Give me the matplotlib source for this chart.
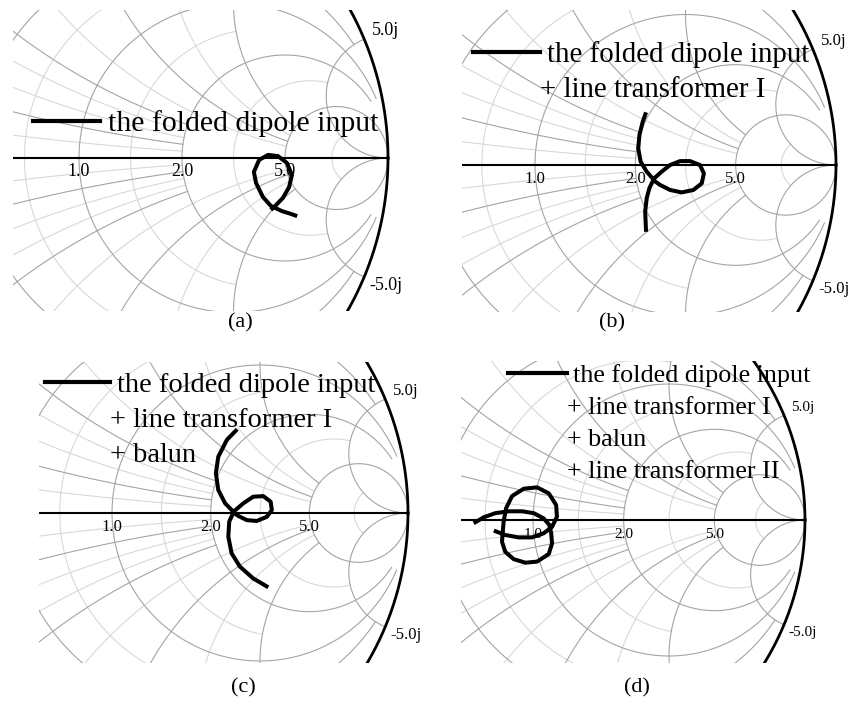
import numpy as np
import matplotlib
matplotlib.use("Agg")
import matplotlib.pyplot as plt
from matplotlib.lines import Line2D

# reflection coefficient of the antenna input, one locus per stage
gamma_a_re = [0.621, 0.638, 0.660, 0.680, 0.689, 0.673, 0.644, 0.612, 0.583,
              0.566, 0.573, 0.595, 0.621, 0.657, 0.683, 0.706]
gamma_a_im = [-0.168, -0.152, -0.129, -0.094, -0.055, -0.016, 0.006, 0.010, -0.006,
              -0.045, -0.081, -0.126, -0.155, -0.172, -0.180, -0.188]

gamma_b_re = [0.369, 0.358, 0.347, 0.343, 0.351, 0.371, 0.393, 0.421, 0.449, 0.482,
              0.515, 0.548, 0.561, 0.554, 0.526, 0.487, 0.449, 0.415, 0.393, 0.380,
              0.371, 0.366, 0.369]
gamma_b_im = [0.175, 0.144, 0.100, 0.055, 0.011, -0.022, -0.047, -0.022, 0.000, 0.013,
              0.013, 0.000, -0.028, -0.061, -0.083, -0.091, -0.083, -0.066, -0.050, -0.077,
              -0.111, -0.155, -0.222]

gamma_c_re = [0.423, 0.388, 0.359, 0.351, 0.359, 0.382, 0.410, 0.444, 0.477, 0.511,
              0.536, 0.540, 0.523, 0.489, 0.455, 0.427, 0.410, 0.396, 0.393, 0.404,
              0.432, 0.477, 0.528]
gamma_c_im = [0.283, 0.247, 0.190, 0.134, 0.078, 0.033, 0.004, 0.033, 0.055, 0.057,
              0.038, 0.010, -0.013, -0.027, -0.024, -0.010, 0.001, -0.029, -0.080, -0.136,
              -0.181, -0.221, -0.251]

gamma_d_re = [-0.218, -0.181, -0.139, -0.089, -0.040, 0.003, 0.039, 0.060, 0.067, 0.070,
              0.058, 0.015, -0.028, -0.071, -0.102, -0.114, -0.111, -0.108, -0.099, -0.077,
              -0.034, 0.015, 0.058, 0.085, 0.088, 0.070, 0.039, -0.004, -0.053, -0.102,
              -0.144]
gamma_d_im = [-0.012, 0.010, 0.025, 0.032, 0.032, 0.025, 0.006, -0.018, -0.049, -0.086,
              -0.125, -0.153, -0.157, -0.144, -0.117, -0.080, -0.043, -0.006, 0.043, 0.088,
              0.115, 0.120, 0.098, 0.055, 0.012, -0.025, -0.049, -0.064, -0.064, -0.055,
              -0.039]

legend_a = ["the folded dipole input"]
legend_b = legend_a + ["+ line transformer I"]
legend_c = legend_b + ["+ balun"]
legend_d = legend_c + ["+ line transformer II"]

real_ticks = [1.0, 2.0, 5.0]
edge_tick = 5.0
captions = ["(a)", "(b)", "(c)", "(d)"]

# grid: (value, limit on the other coordinate, major)
r_circles = [(0.2, 2, True), (0.5, 5, True), (0.7, 2, False), (1.0, 10, True),
             (1.4, 2, False), (2.0, 10, True), (3.0, 5, False), (5.0, np.inf, True),
             (10.0, 5, False)]
x_arcs = [(0.1, 2, False), (0.2, 2, True), (0.3, 2, False), (0.4, 2, False),
          (0.5, 2, True), (0.7, 5, False), (1.0, 5, True), (1.4, 5, False),
          (2.0, 5, True), (5.0, np.inf, True)]

W, H = 852, 706
fig = plt.figure(figsize=(W / 100, H / 100), dpi=100)

SERIF = "Liberation Serif"
MAJOR = "#a4a4a4"
MINOR = "#d8d8d8"


def fx(px):
    return px / W


def fy(py):
    return 1 - py / H


def gamma(z):
    return (z - 1) / (z + 1)


def draw_grid(ax):
    s = np.linspace(0, 1, 600, endpoint=False)
    for r, xmax, major in r_circles:
        if np.isinf(xmax):
            t = np.linspace(-np.pi / 2 + 1e-3, np.pi / 2 - 1e-3, 800)
            xs = np.tan(t) * 3
        else:
            xs = np.linspace(-xmax, xmax, 800)
        g = gamma(r + 1j * xs)
        ax.plot(g.real, g.imag, color=MAJOR if major else MINOR, lw=0.8,
                zorder=2 if major else 1)
    for x, rmax, major in x_arcs:
        if np.isinf(rmax):
            rs = s / (1 - s)
        else:
            rs = np.linspace(0, rmax, 600)
        for sign in (1, -1):
            g = gamma(rs + 1j * sign * x)
            ax.plot(g.real, g.imag, color=MAJOR if major else MINOR, lw=0.8,
                    zorder=2 if major else 1)
    th = np.linspace(0, 2 * np.pi, 1000)
    ax.plot(np.cos(th), np.sin(th), color="black", lw=2.0, zorder=4)
    ax.plot([-1, 1], [0, 0], color="black", lw=1.5, zorder=4)


def panel(cx, cy, R, x0, y0, x1, y1, gre, gim, labels, leg, fs, tfs, cap):
    ax = fig.add_axes([fx(x0), fy(y1), (x1 - x0) / W, (y1 - y0) / H])
    ax.set_xlim((x0 - cx) / R, (x1 - cx) / R)
    ax.set_ylim((cy - y1) / R, (cy - y0) / R)
    ax.axis("off")
    draw_grid(ax)
    ax.plot(gre, gim, color="black", lw=2.9, solid_capstyle="butt",
            solid_joinstyle="round", zorder=5)

    for v in real_ticks:
        g = gamma(v)
        ax.text(g, -14 / R, f"{v:.1f}", ha="center", va="center", fontsize=tfs,
                family=SERIF, zorder=6)
    ge = gamma(1j * edge_tick)
    for sgn, txt in ((1, f"{edge_tick:.1f}j"), (-1, f"-{edge_tick:.1f}j")):
        ax.text(ge.real * 1.075, sgn * ge.imag * 1.075, txt, ha="center", va="center",
                fontsize=tfs, family=SERIF, zorder=6, clip_on=False)

    lx0, lx1, ly, tx, dy, indent = leg
    fig.add_artist(Line2D([fx(lx0), fx(lx1)], [fy(ly), fy(ly)], color="black", lw=3.0))
    for i, line in enumerate(labels):
        x = tx if i == 0 else tx - indent
        fig.text(fx(x), fy(ly + i * dy), line, ha="left", va="center_baseline",
                 fontsize=fs, family=SERIF)
    fig.text(fx(cap[0]), fy(cap[1]), cap[2], ha="center", va="center", fontsize=16,
             family=SERIF)


panel(79, 158, 309, 13, 10, 391, 311, gamma_a_re, gamma_a_im, legend_a,
      (33, 100, 121, 108, 35, 0), 21.5, 13, (240, 323, captions[0]))
panel(535, 165, 301, 462, 10, 840, 312, gamma_b_re, gamma_b_im, legend_b,
      (473, 540, 52, 547, 35, 7), 20.8, 12, (612, 323, captions[1]))
panel(112, 513, 296, 39, 362, 411, 663, gamma_c_re, gamma_c_im, legend_c,
      (45, 110, 382, 117, 35, 7), 20.5, 12, (243, 688, captions[2]))
panel(533, 520, 272, 461, 361, 808, 663, gamma_d_re, gamma_d_im, legend_d,
      (508, 567, 373, 573, 32, 6), 18.8, 11, (637, 688, captions[3]))

fig.savefig("out.png", dpi=100)
